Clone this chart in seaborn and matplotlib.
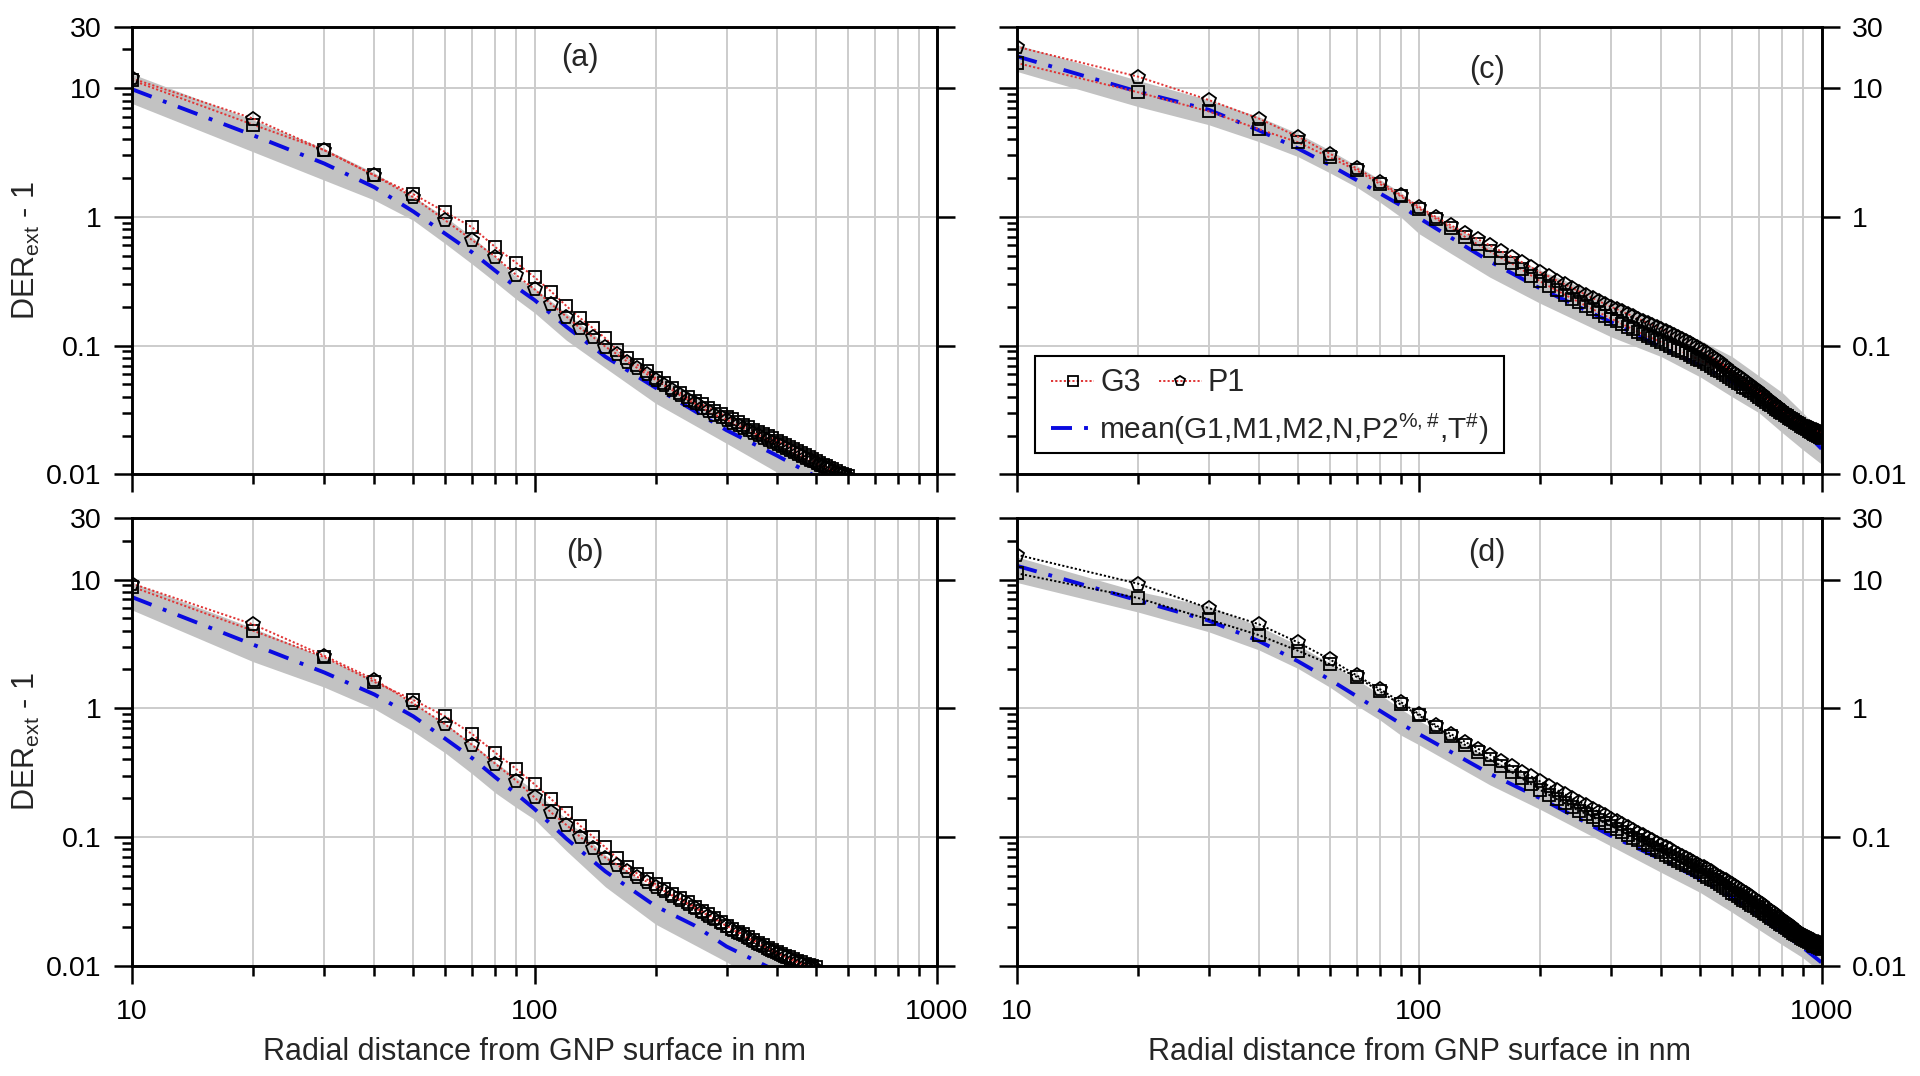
import numpy as np
import seaborn as sns
import matplotlib
matplotlib.use("Agg")
import matplotlib.pyplot as plt
from matplotlib.ticker import FixedLocator, FixedFormatter, NullFormatter
from matplotlib.patches import Rectangle

# ---- panel (a) ----
x_a = np.arange(10, 610, 10)
g3_a = [11.5, 5.2, 3.3, 2.1, 1.5, 1.09, 0.83, 0.58, 0.44, 0.34,
        0.263, 0.203, 0.163, 0.136, 0.114, 0.093, 0.080, 0.071, 0.063, 0.056,
        0.051, 0.047, 0.043, 0.040, 0.037, 0.035, 0.033, 0.031, 0.0295, 0.028,
        0.0267, 0.0255, 0.0243, 0.0232, 0.0222, 0.0213, 0.0205, 0.0197, 0.019, 0.0183,
        0.0176, 0.017, 0.0163, 0.0157, 0.0151, 0.0146, 0.0141, 0.0136, 0.0131, 0.0127,
        0.0123, 0.0119, 0.0115, 0.0112, 0.0109, 0.0106, 0.0103, 0.0101, 0.0099, 0.0097]
p1_a = [11.9, 5.8, 3.3, 2.1, 1.42, 0.94, 0.66, 0.49, 0.354, 0.274,
        0.21, 0.168, 0.136, 0.116, 0.098, 0.086, 0.075, 0.067, 0.060, 0.054,
        0.049, 0.045, 0.041, 0.038, 0.0355, 0.033, 0.031, 0.029, 0.0277, 0.0265,
        0.0252, 0.024, 0.0229, 0.0219, 0.021, 0.0201, 0.0193, 0.0186, 0.0179, 0.0172,
        0.0166, 0.016, 0.0154, 0.0149, 0.0144, 0.0139, 0.0134, 0.013, 0.0126, 0.0122,
        0.0118, 0.0115, 0.0112, 0.0109, 0.0106, 0.0103, 0.0101, 0.0099, 0.0097, 0.0095]
mean_a_x = [10, 20, 30, 40, 50, 60, 70, 80, 90, 100, 120, 150, 200, 250, 300, 400, 500]
mean_a = [9.8, 4.3, 2.6, 1.7, 1.1, 0.74, 0.53, 0.38, 0.285, 0.226, 0.14, 0.082, 0.047,
          0.031, 0.022, 0.014, 0.0096]
band_a_x = [10, 20, 30, 40, 50, 60, 70, 80, 90, 100, 120, 150, 200, 300, 400, 500, 600]
band_a_hi = [12.9, 5.66, 3.4, 2.2, 1.43, 1.0, 0.70, 0.49, 0.34, 0.28, 0.178, 0.104, 0.061,
             0.0298, 0.0175, 0.0108, 0.0075]
band_a_lo = [7.6, 3.2, 1.93, 1.35, 0.94, 0.62, 0.43, 0.31, 0.23, 0.18, 0.11, 0.067, 0.0356,
             0.0174, 0.0104, 0.0065, 0.0045]

# ---- panel (b) ----
x_b = np.arange(10, 510, 10)
g3_b = [8.8, 4.0, 2.5, 1.6, 1.16, 0.865, 0.63, 0.45, 0.338, 0.257,
        0.197, 0.153, 0.122, 0.1, 0.083, 0.069, 0.058, 0.052, 0.047, 0.043,
        0.0395, 0.0363, 0.0335, 0.031, 0.0288, 0.0268, 0.025, 0.0234, 0.0219, 0.0205,
        0.0194, 0.0184, 0.0175, 0.0166, 0.0158, 0.0151, 0.0144, 0.0138, 0.0133, 0.0128,
        0.0124, 0.012, 0.0116, 0.0112, 0.0109, 0.0106, 0.0103, 0.0101, 0.0099, 0.0097]
p1_b = [9.3, 4.48, 2.56, 1.67, 1.09, 0.75, 0.52, 0.37, 0.274, 0.203,
        0.155, 0.124, 0.1, 0.082, 0.069, 0.061, 0.054, 0.049, 0.045, 0.041,
        0.038, 0.035, 0.0325, 0.0302, 0.0281, 0.0262, 0.0245, 0.023, 0.0216, 0.0203,
        0.0191, 0.0181, 0.0172, 0.0163, 0.0155, 0.0148, 0.0141, 0.0135, 0.013, 0.0125,
        0.0121, 0.0117, 0.0113, 0.0109, 0.0106, 0.0103, 0.01, 0.0098, 0.0096, 0.0094]
mean_b_x = [10, 20, 30, 40, 50, 60, 70, 80, 90, 100, 120, 150, 200, 250, 300, 380]
mean_b = [7.3, 3.12, 1.9, 1.28, 0.865, 0.58, 0.41, 0.29, 0.217, 0.165, 0.097, 0.054,
          0.029, 0.0205, 0.0141, 0.0098]
band_b_x = [10, 20, 30, 40, 50, 60, 70, 80, 90, 100, 120, 150, 200, 300, 400, 500]
band_b_hi = [9.5, 4.2, 2.48, 1.67, 1.09, 0.76, 0.53, 0.38, 0.29, 0.23, 0.137, 0.0725,
             0.038, 0.0185, 0.011, 0.0075]
band_b_lo = [5.8, 2.3, 1.46, 0.99, 0.66, 0.45, 0.31, 0.22, 0.17, 0.137, 0.078, 0.041,
             0.021, 0.0107, 0.0062, 0.0042]

# ---- panel (c) ----
x_c = np.arange(10, 1010, 10)
g3_c = [15.7, 9.3, 6.6, 4.8, 3.8, 2.9, 2.3, 1.8, 1.45, 1.16,
        0.97, 0.82, 0.7, 0.61, 0.54, 0.48, 0.435, 0.39, 0.35, 0.315,
        0.29, 0.268, 0.249, 0.232, 0.217, 0.204, 0.192, 0.181, 0.171, 0.162,
        0.154, 0.147, 0.14, 0.134, 0.128, 0.123, 0.118, 0.114, 0.11, 0.106,
        0.102, 0.099, 0.096, 0.093, 0.09, 0.087, 0.084, 0.082, 0.079, 0.077,
        0.074, 0.072, 0.07, 0.067, 0.065, 0.063, 0.061, 0.059, 0.057, 0.055,
        0.053, 0.051, 0.05, 0.048, 0.047, 0.045, 0.044, 0.0425, 0.041, 0.0398,
        0.0386, 0.0375, 0.0364, 0.0353, 0.0343, 0.0333, 0.0324, 0.0315, 0.0306, 0.0298,
        0.029, 0.0283, 0.0276, 0.0269, 0.0262, 0.0256, 0.025, 0.0244, 0.0238, 0.0233,
        0.0228, 0.0223, 0.0218, 0.0214, 0.021, 0.0206, 0.0202, 0.0198, 0.0195, 0.0192]
p1_c = [21.0, 12.3, 8.1, 5.8, 4.2, 3.1, 2.38, 1.87, 1.48, 1.2,
        1.0, 0.86, 0.755, 0.67, 0.6, 0.54, 0.49, 0.445, 0.405, 0.37,
        0.345, 0.32, 0.3, 0.28, 0.263, 0.248, 0.234, 0.221, 0.21, 0.2,
        0.192, 0.184, 0.176, 0.169, 0.162, 0.156, 0.15, 0.145, 0.14, 0.135,
        0.13, 0.125, 0.121, 0.117, 0.113, 0.109, 0.105, 0.101, 0.098, 0.094,
        0.09, 0.087, 0.083, 0.08, 0.077, 0.074, 0.071, 0.068, 0.065, 0.062,
        0.06, 0.058, 0.056, 0.054, 0.052, 0.05, 0.048, 0.0465, 0.045, 0.0435,
        0.042, 0.0405, 0.039, 0.0378, 0.0365, 0.0353, 0.0342, 0.0331, 0.032, 0.031,
        0.0301, 0.0293, 0.0285, 0.0278, 0.0271, 0.0265, 0.0259, 0.0253, 0.0248, 0.0243,
        0.0239, 0.0235, 0.0231, 0.0228, 0.0225, 0.0222, 0.0219, 0.0216, 0.0213, 0.021]
mean_c_x = [10, 20, 30, 40, 50, 60, 70, 80, 90, 100, 150, 200, 300, 400, 500, 600, 700,
            800, 900, 1000]
mean_c = [17.7, 9.4, 6.8, 4.7, 3.4, 2.53, 1.93, 1.52, 1.23, 0.98, 0.45, 0.278, 0.152,
          0.097, 0.07, 0.052, 0.039, 0.0295, 0.022, 0.0158]
band_c_x = [10, 20, 30, 40, 50, 60, 70, 80, 90, 100, 120, 150, 200, 300, 400, 500, 600,
            700, 800, 900, 1000]
band_c_hi = [21.8, 11.5, 8.1, 6.0, 4.45, 3.3, 2.5, 1.95, 1.55, 1.2, 0.86, 0.585, 0.386,
             0.226, 0.15, 0.11, 0.082, 0.058, 0.043, 0.030, 0.021]
band_c_lo = [13.5, 7.2, 5.2, 3.84, 2.94, 2.2, 1.7, 1.3, 1.0, 0.74, 0.52, 0.34, 0.213,
             0.117, 0.082, 0.057, 0.04, 0.03, 0.021, 0.0155, 0.012]

# ---- panel (d) ----
x_d = np.arange(10, 1010, 10)
g3_d = [11.2, 7.2, 4.9, 3.7, 2.8, 2.2, 1.75, 1.35, 1.07, 0.88,
        0.72, 0.605, 0.52, 0.455, 0.4, 0.356, 0.318, 0.285, 0.257, 0.232,
        0.213, 0.197, 0.183, 0.17, 0.16, 0.151, 0.143, 0.135, 0.128, 0.122,
        0.116, 0.11, 0.104, 0.099, 0.094, 0.09, 0.086, 0.082, 0.079, 0.076,
        0.073, 0.07, 0.067, 0.065, 0.063, 0.061, 0.059, 0.057, 0.055, 0.053,
        0.051, 0.049, 0.0475, 0.046, 0.0445, 0.043, 0.0415, 0.040, 0.0385, 0.037,
        0.0358, 0.0347, 0.0336, 0.0326, 0.0316, 0.0306, 0.0297, 0.0289, 0.0281, 0.0273,
        0.0265, 0.0257, 0.025, 0.0243, 0.0236, 0.023, 0.0224, 0.0218, 0.0212, 0.0206,
        0.0201, 0.0196, 0.0191, 0.0186, 0.0181, 0.0177, 0.0173, 0.0169, 0.0165, 0.0161,
        0.0158, 0.0155, 0.0152, 0.0149, 0.0146, 0.0143, 0.0141, 0.0139, 0.0137, 0.0135]
p1_d = [15.6, 9.3, 6.0, 4.5, 3.25, 2.4, 1.8, 1.405, 1.12, 0.9,
        0.74, 0.63, 0.55, 0.485, 0.435, 0.39, 0.355, 0.322, 0.295, 0.27,
        0.25, 0.232, 0.215, 0.2, 0.188, 0.176, 0.166, 0.156, 0.147, 0.139,
        0.132, 0.125, 0.119, 0.113, 0.108, 0.103, 0.098, 0.094, 0.09, 0.086,
        0.083, 0.08, 0.077, 0.074, 0.071, 0.069, 0.066, 0.064, 0.062, 0.06,
        0.058, 0.056, 0.054, 0.052, 0.05, 0.049, 0.047, 0.046, 0.044, 0.043,
        0.0415, 0.0402, 0.0389, 0.0377, 0.0365, 0.0353, 0.0342, 0.0331, 0.032, 0.031,
        0.03, 0.029, 0.0281, 0.0272, 0.0264, 0.0256, 0.0248, 0.0241, 0.0234, 0.0227,
        0.022, 0.0214, 0.0208, 0.0202, 0.0196, 0.0191, 0.0186, 0.0181, 0.0176, 0.0172,
        0.0169, 0.0166, 0.0163, 0.016, 0.0158, 0.0156, 0.0154, 0.0152, 0.015, 0.0148]
mean_d_x = [10, 20, 30, 40, 50, 60, 70, 80, 90, 100, 150, 200, 300, 400, 500, 600, 700,
            800, 900, 1000]
mean_d = [12.8, 6.9, 4.8, 3.33, 2.32, 1.67, 1.24, 0.955, 0.76, 0.63, 0.31, 0.2, 0.102,
          0.067, 0.047, 0.034, 0.024, 0.018, 0.0138, 0.0106]
band_d_x = mean_d_x
band_d_hi = [15.0, 8.1, 6.2, 4.33, 3.1, 2.24, 1.67, 1.28, 0.99, 0.8, 0.41, 0.265, 0.137,
             0.09, 0.063, 0.047, 0.033, 0.024, 0.018, 0.0143]
band_d_lo = [9.5, 5.6, 3.93, 2.84, 2.04, 1.46, 1.05, 0.81, 0.62, 0.52, 0.254, 0.164,
             0.085, 0.053, 0.037, 0.026, 0.019, 0.0145, 0.0115, 0.0088]

# ticks
y_major = [0.01, 0.1, 1, 10, 30]
y_major_labels = ["0.01", "0.1", "1", "10", "30"]
y_minor = [0.02, 0.03, 0.04, 0.05, 0.06, 0.07, 0.08, 0.09,
           0.2, 0.3, 0.4, 0.5, 0.6, 0.7, 0.8, 0.9,
           2, 3, 4, 5, 6, 7, 8, 9, 20]
x_major = [10, 100, 1000]
x_major_labels = ["10", "100", "1000"]
x_minor = [20, 30, 40, 50, 60, 70, 80, 90, 200, 300, 400, 500, 600, 700, 800, 900]

sns.set_style("ticks")
plt.rcParams["font.family"] = ["Liberation Sans", "DejaVu Sans"]
plt.rcParams["mathtext.default"] = "regular"

TICK_FS = 20.5
LAB_FS = 22
BAND = "#c2c2c2"
BLUE = "#0a0ae0"
RED = "#e03535"
GRID = "#cccccc"

fig = plt.figure(figsize=(19.2, 10.76), dpi=100)
W, H = 1920, 1076
axw, axh = 805 / W, 447.6 / H
pos = {
    "a": [132 / W, 1 - 474.3 / H, axw, axh],
    "b": [132 / W, 1 - 965.7 / H, axw, axh],
    "c": [1016.5 / W, 1 - 474.3 / H, axw, axh],
    "d": [1016.5 / W, 1 - 965.7 / H, axw, axh],
}

panels = {
    "a": (x_a, g3_a, p1_a, mean_a_x, mean_a, band_a_x, band_a_lo, band_a_hi, RED, (0.556, 0.931)),
    "b": (x_b, g3_b, p1_b, mean_b_x, mean_b, band_b_x, band_b_lo, band_b_hi, RED, (0.562, 0.921)),
    "c": (x_c, g3_c, p1_c, mean_c_x, mean_c, band_c_x, band_c_lo, band_c_hi, RED, (0.584, 0.903)),
    "d": (x_d, g3_d, p1_d, mean_d_x, mean_d, band_d_x, band_d_lo, band_d_hi, "black", (0.584, 0.921)),
}

handles = {}
for key, (xp, g3, p1, mx, my, bx, blo, bhi, lcol, tag_xy) in panels.items():
    ax = fig.add_axes(pos[key])
    ax.set_xscale("log")
    ax.set_yscale("log")

    ax.fill_between(bx, blo, bhi, color=BAND, lw=0, zorder=1)

    sns.lineplot(x=mx, y=my, ax=ax, color=BLUE, lw=2.8,
                 linestyle=(0, (5.4, 3.1, 1.0, 3.1)), zorder=2)
    mean_line = ax.lines[-1]

    sns.lineplot(x=xp, y=g3, ax=ax, color=lcol, lw=1.4, linestyle=(0, (1.1, 1.1)),
                 marker="s", markersize=9, markerfacecolor="none",
                 markeredgecolor="black", markeredgewidth=1.3, zorder=3)
    g3_line = ax.lines[-1]
    sns.lineplot(x=xp, y=p1, ax=ax, color=lcol, lw=1.4, linestyle=(0, (1.1, 1.1)),
                 marker="p", markersize=10.5, markerfacecolor="none",
                 markeredgecolor="black", markeredgewidth=1.3, zorder=3)
    p1_line = ax.lines[-1]
    handles[key] = (g3_line, p1_line, mean_line)

    ax.set_xlim(10, 1000)
    ax.set_ylim(0.01, 30)

    ax.xaxis.set_major_locator(FixedLocator(x_major))
    ax.xaxis.set_major_formatter(FixedFormatter(x_major_labels))
    ax.xaxis.set_minor_locator(FixedLocator(x_minor))
    ax.xaxis.set_minor_formatter(NullFormatter())
    ax.yaxis.set_major_locator(FixedLocator(y_major))
    ax.yaxis.set_major_formatter(FixedFormatter(y_major_labels))
    ax.yaxis.set_minor_locator(FixedLocator(y_minor))
    ax.yaxis.set_minor_formatter(NullFormatter())

    ax.grid(which="major", axis="y", color=GRID, lw=1.4)
    ax.grid(which="both", axis="x", color=GRID, lw=1.4)
    ax.set_axisbelow(True)

    for sp in ax.spines.values():
        sp.set_linewidth(2.1)
        sp.set_color("black")
        sp.set_zorder(6)

    left_col = key in ("a", "b")
    bottom_row = key in ("b", "d")
    ax.tick_params(axis="both", which="both", direction="out", width=1.8,
                   labelsize=TICK_FS, colors="black")
    ax.tick_params(axis="both", which="major", length=13)
    ax.tick_params(axis="both", which="minor", length=7.5)
    ax.tick_params(axis="y", left=True, right=True, labelleft=left_col,
                   labelright=not left_col, pad=9)
    ax.tick_params(axis="x", bottom=True, top=False, labelbottom=bottom_row, pad=11)

    if left_col:
        ax.set_ylabel("DER$_{ext}$ - 1", fontsize=LAB_FS)
        ax.yaxis.set_label_coords(-0.112, 0.5)
    else:
        ax.set_ylabel("")
    if bottom_row:
        ax.set_xlabel("Radial distance from GNP surface in nm", fontsize=LAB_FS)
        ax.xaxis.set_label_coords(0.5, -0.16)
    else:
        ax.set_xlabel("")

    ax.text(tag_xy[0], tag_xy[1], f"({key})", transform=ax.transAxes,
            ha="center", va="center", fontsize=LAB_FS)

    if key == "c":
        g3h, p1h, mh = handles[key]
        frame = Rectangle((0.0236, 0.047), 0.582, 0.217, transform=ax.transAxes,
                          facecolor="white", edgecolor="black", lw=1.5, zorder=7)
        ax.add_patch(frame)
        leg1 = ax.legend([g3h, p1h], ["G3", "P1"], ncol=2, loc="center left",
                         bbox_to_anchor=(0.043, 0.203), frameon=False, fontsize=LAB_FS,
                         handlelength=1.4, handletextpad=0.2, columnspacing=0.6,
                         borderpad=0, borderaxespad=0, numpoints=1, markerscale=0.75)
        leg1.set_zorder(8)
        ax.add_artist(leg1)
        leg2 = ax.legend([mh], ["mean(G1,M1,M2,N,P2$^{\\%,\\#}$,T$^{\\#}$)"],
                         loc="center left", bbox_to_anchor=(0.043, 0.101),
                         frameon=False, fontsize=LAB_FS - 0.5, handlelength=1.4,
                         handletextpad=0.2, borderpad=0, borderaxespad=0)
        leg2.set_zorder(8)
    else:
        if ax.get_legend() is not None:
            ax.get_legend().remove()

fig.savefig("out.png", dpi=100)
